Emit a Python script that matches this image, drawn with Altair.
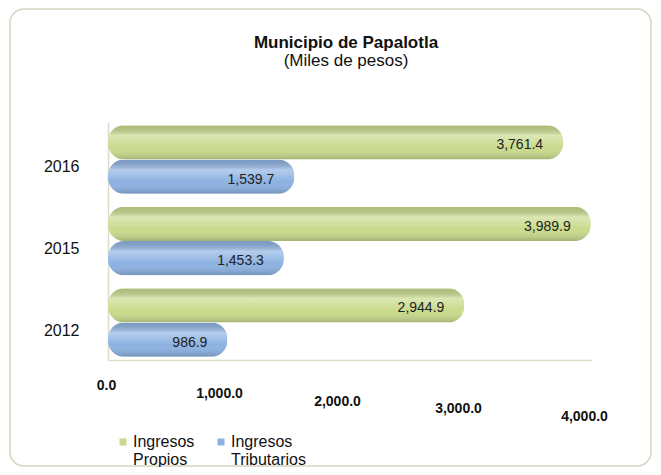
import altair as alt
import pandas as pd

years = ["2016", "2015", "2012"]
series = ["Ingresos Propios", "Ingresos Tributarios"]
propios = [3761.4, 3989.9, 2944.9]
tributarios = [1539.7, 1453.3, 986.9]
x_ticks = [0, 1000, 2000, 3000, 4000]
colors = ["#c9da8c", "#8db2e2"]

rows = []
for i, y in enumerate(years):
    rows.append({"year": y, "serie": series[0], "valor": propios[i]})
    rows.append({"year": y, "serie": series[1], "valor": tributarios[i]})
df = pd.DataFrame(rows)

W, H = 484, 238
FONT = "Liberation Sans"

y_enc = alt.Y("year:N", sort=years, title=None,
              scale=alt.Scale(paddingInner=0.16, paddingOuter=0.04),
              axis=alt.Axis(labelFontSize=16, labelFont=FONT, labelColor="#111",
                            labelPadding=29, labelOffset=8, ticks=False,
                            domainColor="#dcdccb", domainWidth=1.5))
yoff = alt.YOffset("serie:N", sort=series)
x_enc = alt.X("valor:Q", title=None,
              scale=alt.Scale(domain=[0, 4000], nice=False),
              axis=alt.Axis(values=x_ticks, format=",.1f", labelFont=FONT,
                            labelFontSize=14, labelFontWeight="bold",
                            labelColor="#111", grid=False, ticks=False,
                            labelFlush=False, labelOverlap=False,
                            domainColor="#dcdccb", domainWidth=1.5,
                            labelPadding={"condition": [
                                {"test": "datum.value == 0", "value": 18},
                                {"test": "datum.value == 1000", "value": 26},
                                {"test": "datum.value == 2000", "value": 34},
                                {"test": "datum.value == 3000", "value": 41}],
                                "value": 49},
                            labelOffset={"condition": [
                                {"test": "datum.value == 0", "value": -2},
                                {"test": "datum.value == 1000", "value": -10},
                                {"test": "datum.value == 2000", "value": -13},
                                {"test": "datum.value == 3000", "value": -13}],
                                "value": -8}))

frame = alt.Chart(alt.Data(values=[{}])).mark_rect(
    cornerRadius=14, fill="white", fillOpacity=0, stroke="#d6d6c2", strokeWidth=1.5
).encode(x=alt.value(-98), x2=alt.value(543), y=alt.value(-113), y2=alt.value(344))

bars = alt.Chart(df).mark_bar(cornerRadius=16).encode(
    y=y_enc, yOffset=yoff, x=x_enc,
    color=alt.Color("serie:N", sort=series,
                    scale=alt.Scale(domain=series, range=colors),
                    legend=alt.Legend(title=None, orient="none", legendX=7, legendY=312,
                                      direction="horizontal", symbolType="square",
                                      symbolSize=50, labelFont=FONT, labelFontSize=16,
                                      labelColor="#111", columnPadding=18,
                                      labelExpr="split(datum.label, ' ')",
                                      labelLimit=0, labelOffset=2)))

shade = alt.Chart(df).mark_bar(
    cornerRadius=16,
    color=alt.Gradient(gradient="linear", x1=0, y1=0, x2=0, y2=1, stops=[
        alt.GradientStop(offset=0, color="rgba(0,0,0,0.12)"),
        alt.GradientStop(offset=0.3, color="rgba(255,255,255,0.35)"),
        alt.GradientStop(offset=0.65, color="rgba(255,255,255,0.0)"),
        alt.GradientStop(offset=1, color="rgba(0,0,0,0.18)")])
).encode(y=alt.Y("year:N", sort=years), yOffset=yoff, x="valor:Q")

labels = alt.Chart(df).mark_text(
    align="right", baseline="middle", dx=-20, dy=3, font=FONT, fontSize=14, color="#222"
).encode(y=alt.Y("year:N", sort=years), yOffset=yoff, x="valor:Q",
         text=alt.Text("valor:Q", format=",.1f"))

chart = alt.layer(frame, bars, shade, labels).properties(
    width=W, height=H,
    title=alt.TitleParams(text="Municipio de Papalotla", subtitle="(Miles de pesos)",
                          anchor="middle", frame="group", dx=-4, offset=-62,
                          font=FONT, fontSize=17,
                          fontWeight="bold", color="#111", subtitleFont=FONT,
                          subtitleFontSize=17, subtitleColor="#111", subtitlePadding=1),
    autosize=alt.AutoSizeParams(type="none"),
    padding={"left": 100, "top": 114, "right": 61, "bottom": 107},
).configure(background="white").configure_view(stroke=None)

chart.save("out.html", embed_options={"renderer": "svg", "actions": False})
